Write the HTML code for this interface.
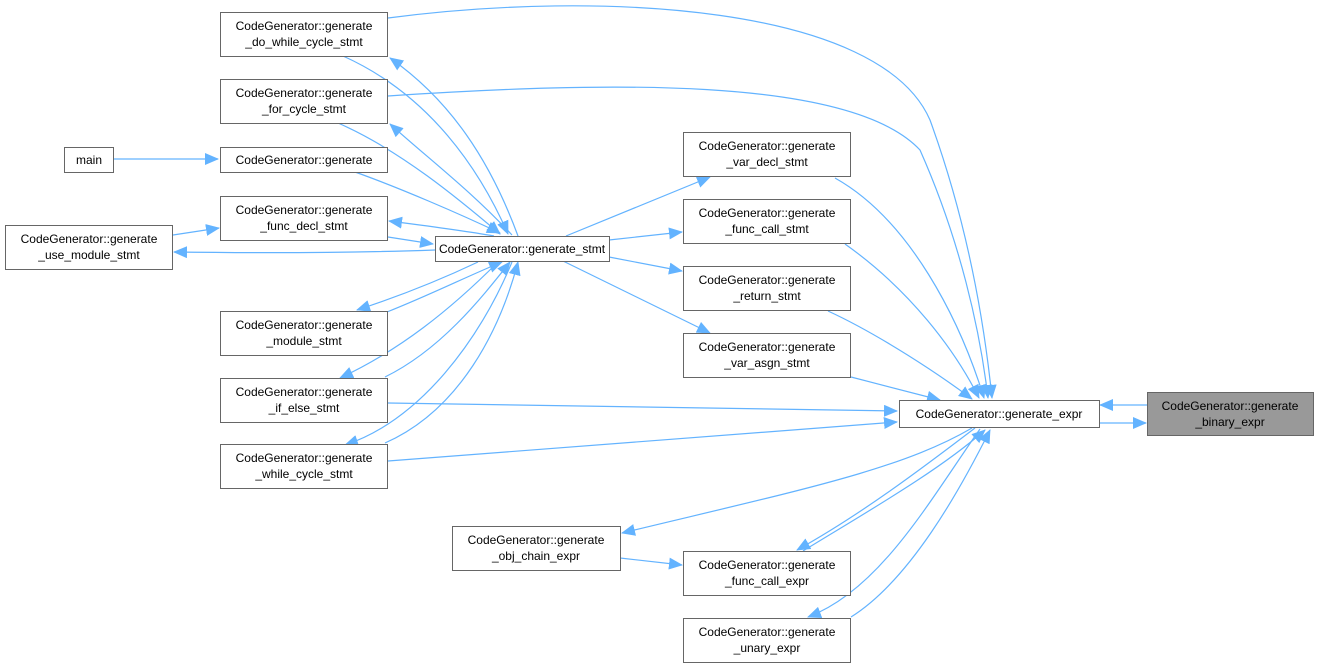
<!DOCTYPE html>
<html><head><meta charset="utf-8"><style>
html,body{margin:0;padding:0;background:#fff;}
svg{display:block}
text{font-family:"Liberation Sans",sans-serif;font-size:12px;fill:#000}
.n{fill:#fff;stroke:#666;stroke-width:1}
.e{fill:none;stroke:#63b3ff;stroke-width:1.2}
</style></head><body>
<svg width="1320" height="667" viewBox="0 0 1320 667" xmlns="http://www.w3.org/2000/svg">
<defs>
<marker id="a" markerUnits="userSpaceOnUse" markerWidth="14" markerHeight="12" refX="13" refY="6" orient="auto">
<path d="M0,0 L14,6 L0,12 Z" fill="#63b3ff"/>
</marker>
</defs>
<g class="edges">
<path class="e" d="M113,159 L218,159" marker-end="url(#a)"/>
<path class="e" d="M355,172 C400,188 460,214 500,233" marker-end="url(#a)"/>
<path class="e" d="M343,56 C430,95 480,170 508,234" marker-end="url(#a)"/>
<path class="e" d="M518,236 C490,160 450,100 390,58" marker-end="url(#a)"/>
<path class="e" d="M338,123 C400,150 460,200 500,234" marker-end="url(#a)"/>
<path class="e" d="M512,235 C470,190 430,160 390,124" marker-end="url(#a)"/>
<path class="e" d="M494,236 C460,230 420,225 389,221" marker-end="url(#a)"/>
<path class="e" d="M388,237 L433,244" marker-end="url(#a)"/>
<path class="e" d="M435,250 C350,253 250,253 174,252" marker-end="url(#a)"/>
<path class="e" d="M173,235 L219,228" marker-end="url(#a)"/>
<path class="e" d="M387,312 C430,295 470,275 502,262" marker-end="url(#a)"/>
<path class="e" d="M478,262 C440,280 400,296 357,310" marker-end="url(#a)"/>
<path class="e" d="M385,377 C440,350 480,300 510,262" marker-end="url(#a)"/>
<path class="e" d="M498,262 C450,310 400,350 340,378" marker-end="url(#a)"/>
<path class="e" d="M385,443 C460,410 500,330 518,262" marker-end="url(#a)"/>
<path class="e" d="M512,262 C480,340 420,420 345,445" marker-end="url(#a)"/>
<path class="e" d="M566,236 L710,177" marker-end="url(#a)"/>
<path class="e" d="M609,240 L682,232" marker-end="url(#a)"/>
<path class="e" d="M609,257 L682,271" marker-end="url(#a)"/>
<path class="e" d="M563,261 L710,333" marker-end="url(#a)"/>
<path class="e" d="M388,18 C600,-10 880,5 930,120 C970,230 985,330 992,398" marker-end="url(#a)"/>
<path class="e" d="M388,96 C600,82 850,75 920,150 C960,240 980,330 988,398" marker-end="url(#a)"/>
<path class="e" d="M835,178 C910,220 960,320 984,398" marker-end="url(#a)"/>
<path class="e" d="M845,244 C910,290 955,350 979,398" marker-end="url(#a)"/>
<path class="e" d="M828,311 C880,335 940,375 972,399" marker-end="url(#a)"/>
<path class="e" d="M851,377 L940,400" marker-end="url(#a)"/>
<path class="e" d="M388,403 L897,411" marker-end="url(#a)"/>
<path class="e" d="M388,461 L897,422" marker-end="url(#a)"/>
<path class="e" d="M1147,405 L1100,405" marker-end="url(#a)"/>
<path class="e" d="M1099,423 L1146,423" marker-end="url(#a)"/>
<path class="e" d="M972,428 C900,470 800,490 622,533" marker-end="url(#a)"/>
<path class="e" d="M620,558 L682,565" marker-end="url(#a)"/>
<path class="e" d="M975,428 C920,470 860,515 797,550" marker-end="url(#a)"/>
<path class="e" d="M803,551 C870,510 940,470 985,430" marker-end="url(#a)"/>
<path class="e" d="M980,429 C930,500 880,590 808,617" marker-end="url(#a)"/>
<path class="e" d="M851,617 C910,580 960,490 990,430" marker-end="url(#a)"/>
</g>
<g class="nodes">
<rect class="n" x="220.5" y="12.5" width="167" height="44"/><text x="304" y="30" text-anchor="middle">CodeGenerator::generate</text><text x="304" y="46" text-anchor="middle">_do_while_cycle_stmt</text>
<rect class="n" x="220.5" y="79.5" width="167" height="44"/><text x="304" y="97" text-anchor="middle">CodeGenerator::generate</text><text x="304" y="113" text-anchor="middle">_for_cycle_stmt</text>
<rect class="n" x="64.5" y="147.5" width="49" height="25"/><text x="89" y="164" text-anchor="middle">main</text>
<rect class="n" x="220.5" y="147.5" width="167" height="25"/><text x="304" y="164" text-anchor="middle">CodeGenerator::generate</text>
<rect class="n" x="220.5" y="196.5" width="167" height="44"/><text x="304" y="214" text-anchor="middle">CodeGenerator::generate</text><text x="304" y="230" text-anchor="middle">_func_decl_stmt</text>
<rect class="n" x="5.5" y="225.5" width="167" height="44"/><text x="89" y="243" text-anchor="middle">CodeGenerator::generate</text><text x="89" y="259" text-anchor="middle">_use_module_stmt</text>
<rect class="n" x="435.5" y="236.5" width="174" height="25"/><text x="522" y="253" text-anchor="middle">CodeGenerator::generate_stmt</text>
<rect class="n" x="220.5" y="311.5" width="167" height="44"/><text x="304" y="329" text-anchor="middle">CodeGenerator::generate</text><text x="304" y="345" text-anchor="middle">_module_stmt</text>
<rect class="n" x="220.5" y="378.5" width="167" height="44"/><text x="304" y="396" text-anchor="middle">CodeGenerator::generate</text><text x="304" y="412" text-anchor="middle">_if_else_stmt</text>
<rect class="n" x="220.5" y="444.5" width="167" height="44"/><text x="304" y="462" text-anchor="middle">CodeGenerator::generate</text><text x="304" y="478" text-anchor="middle">_while_cycle_stmt</text>
<rect class="n" x="683.5" y="132.5" width="167" height="44"/><text x="767" y="150" text-anchor="middle">CodeGenerator::generate</text><text x="767" y="166" text-anchor="middle">_var_decl_stmt</text>
<rect class="n" x="683.5" y="199.5" width="167" height="44"/><text x="767" y="217" text-anchor="middle">CodeGenerator::generate</text><text x="767" y="233" text-anchor="middle">_func_call_stmt</text>
<rect class="n" x="683.5" y="266.5" width="167" height="44"/><text x="767" y="284" text-anchor="middle">CodeGenerator::generate</text><text x="767" y="300" text-anchor="middle">_return_stmt</text>
<rect class="n" x="683.5" y="333.5" width="167" height="44"/><text x="767" y="351" text-anchor="middle">CodeGenerator::generate</text><text x="767" y="367" text-anchor="middle">_var_asgn_stmt</text>
<rect class="n" x="899.5" y="400.5" width="200" height="27"/><text x="999" y="418" text-anchor="middle">CodeGenerator::generate_expr</text>
<rect x="1147.5" y="392.5" width="166" height="43" fill="#999" stroke="#666"/><text x="1230" y="410" text-anchor="middle">CodeGenerator::generate</text><text x="1230" y="426" text-anchor="middle">_binary_expr</text>
<rect class="n" x="452.5" y="526.5" width="168" height="44"/><text x="536" y="544" text-anchor="middle">CodeGenerator::generate</text><text x="536" y="560" text-anchor="middle">_obj_chain_expr</text>
<rect class="n" x="683.5" y="551.5" width="167" height="44"/><text x="767" y="569" text-anchor="middle">CodeGenerator::generate</text><text x="767" y="585" text-anchor="middle">_func_call_expr</text>
<rect class="n" x="683.5" y="618.5" width="167" height="44"/><text x="767" y="636" text-anchor="middle">CodeGenerator::generate</text><text x="767" y="652" text-anchor="middle">_unary_expr</text>
</g>
</svg>
</body></html>
